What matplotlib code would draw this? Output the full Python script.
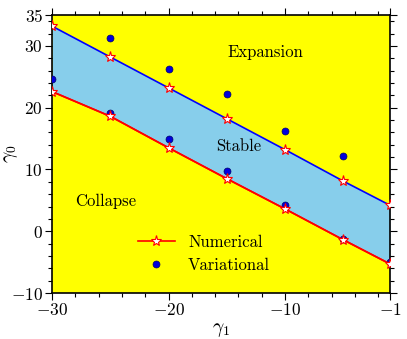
import numpy as np
import matplotlib
matplotlib.use("Agg")
import matplotlib.pyplot as plt
from matplotlib.ticker import MultipleLocator, FixedLocator

plt.rcParams['font.family'] = 'cmr10'
plt.rcParams['mathtext.fontset'] = 'cm'
plt.rcParams['axes.formatter.use_mathtext'] = True

# Data
gamma1 = [-30, -25, -20, -15, -10, -5, -1]
num_upper = [33.2, 28.2, 23.2, 18.2, 13.2, 8.1, 4.2]
num_lower = [22.6, 18.6, 13.5, 8.5, 3.6, -1.4, -5.3]
var_x = [-30, -25, -20, -15, -10, -5, -1]
var_upper = [np.nan, 31.3, 26.3, 22.2, 16.2, 12.2, np.nan]
var_lower = [24.6, 19.1, 15.0, 9.7, 4.3, -1.2, -5.0]

xticks = [-30, -20, -10, -1]
yticks = [-10, 0, 10, 20, 30, 35]

fig = plt.figure(figsize=(4.07, 3.39), dpi=100)
ax = fig.add_axes([52/407, 1-293/339, (390-52)/407, (293-15)/339])
ax.set_xlim(-30, -1)
ax.set_ylim(-10, 35)
ax.set_facecolor('#ffff00')

ax.fill_between(gamma1, num_lower, num_upper, color='#87ceeb', lw=0, zorder=1)
ax.plot(gamma1, num_upper, color='blue', lw=1.2, zorder=2)
ax.plot(gamma1, num_lower, color='red', lw=1.2, zorder=2)
ax.plot(gamma1, num_upper, ls='none', marker='*', ms=8, mfc='white', mec='red', mew=0.8, zorder=4)
ln, = ax.plot(gamma1, num_lower, color='red', lw=1.2, marker='*', ms=8, mfc='white', mec='red', mew=0.8, zorder=4, label='Numerical')
ax.plot(var_x, var_upper, ls='none', marker='o', ms=5, mfc='#0000dd', mec='#000066', mew=0.5, zorder=3)
ax.plot(var_x, var_lower, ls='none', marker='o', ms=5, mfc='#0000dd', mec='#000066', mew=0.5, zorder=3, label='Variational')

ax.text(-11.7, 29, 'Expansion', fontsize=12, ha='center', va='center')
ax.text(-14, 13.8, 'Stable', fontsize=12, ha='center', va='center')
ax.text(-25.4, 4.9, 'Collapse', fontsize=12, ha='center', va='center')

ax.xaxis.set_major_locator(FixedLocator(xticks))
ax.xaxis.set_minor_locator(MultipleLocator(2))
ax.yaxis.set_major_locator(FixedLocator(yticks))
ax.yaxis.set_minor_locator(MultipleLocator(2))
ax.set_xticklabels([r'$-30$', r'$-20$', r'$-10$', r'$-1$'])
ax.set_yticklabels([r'$-10$', r'$0$', r'$10$', r'$20$', r'$30$', r'$35$'])
ax.tick_params(which='both', direction='out', top=True, right=True, labelsize=12.5, width=0.8)
ax.tick_params(which='major', length=5, pad=1.5)
ax.tick_params(which='minor', length=3)
for s in ax.spines.values():
    s.set_linewidth(1.2)

ax.set_xlabel(r'$\gamma_1$', fontsize=14)
ax.set_ylabel(r'$\gamma_0$', fontsize=14)
ax.xaxis.set_label_coords(0.5, -0.1, transform=ax.transAxes)
ax.yaxis.set_label_coords(-0.095, 0.5, transform=ax.transAxes)

ax.legend(loc='lower center', bbox_to_anchor=(0.45, 0.03), frameon=False, fontsize=12,
          handlelength=2.2, handletextpad=0.8, borderaxespad=0.3, labelspacing=0.45)

fig.savefig('out.png', dpi=100)
